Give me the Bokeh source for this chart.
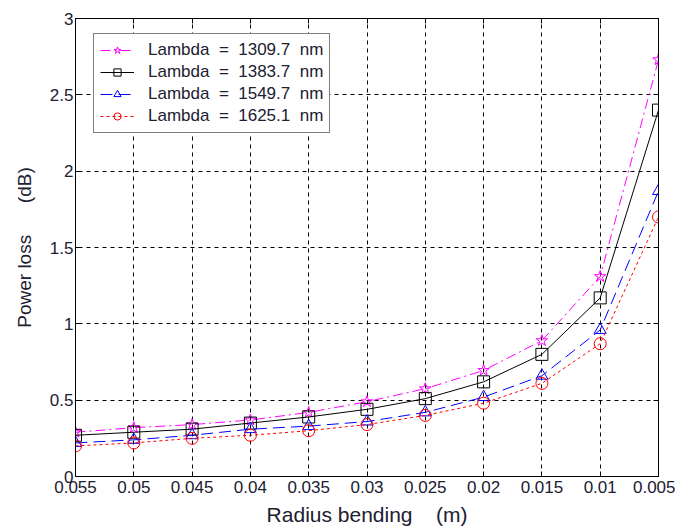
from bokeh.plotting import figure
from bokeh.models import Range1d, FixedTicker, LinearAxis, Legend, LegendItem
from bokeh.embed import file_html
from bokeh.resources import INLINE

radius = [0.055, 0.05, 0.045, 0.04, 0.035, 0.03, 0.025, 0.02, 0.015, 0.01, 0.005]
loss_1309 = [0.29, 0.32, 0.34, 0.37, 0.42, 0.49, 0.575, 0.695, 0.89, 1.31, 2.73]
loss_1383 = [0.27, 0.29, 0.31, 0.35, 0.39, 0.44, 0.51, 0.62, 0.80, 1.17, 2.40]
loss_1549 = [0.22, 0.24, 0.27, 0.31, 0.33, 0.36, 0.42, 0.52, 0.66, 0.96, 1.87]
loss_1625 = [0.20, 0.22, 0.25, 0.27, 0.30, 0.34, 0.40, 0.48, 0.61, 0.87, 1.70]
NB = "\u00a0"
labels = [f"Lambda{NB*2}={NB*2}1309.7{NB*2}nm", f"Lambda{NB*2}={NB*2}1383.7{NB*2}nm",
          f"Lambda{NB*2}={NB*2}1549.7{NB*2}nm", f"Lambda{NB*2}={NB*2}1625.1{NB*2}nm"]
x_ticks = [0.055, 0.05, 0.045, 0.04, 0.035, 0.03, 0.025, 0.02, 0.015, 0.01, 0.005]
x_tick_labels = ["0.055", "0.05", "0.045", "0.04", "0.035", "0.03", "0.025", "0.02", "0.015", "0.01", "0.005"]
y_ticks = [0, 0.5, 1, 1.5, 2, 2.5, 3]
y_tick_labels = ["0", "0.5", "1", "1.5", "2", "2.5", "3"]
x_title = f"Radius bending{NB*4}(m)"
y_title = f"Power loss{NB*6}(dB)"

FONT = "Liberation Sans"
TXT = "#202030"

p = figure(width=675, height=528, output_backend="svg", toolbar_location=None,
           x_range=Range1d(0.055, 0.005), y_range=Range1d(0, 3),
           min_border_left=75, min_border_right=17, min_border_top=18, min_border_bottom=51)
p.outline_line_color = "black"
p.outline_line_width = 1
p.background_fill_color = "white"
p.border_fill_color = "white"

for ax, ticks, labs in ((p.xaxis[0], x_ticks, x_tick_labels), (p.yaxis[0], y_ticks, y_tick_labels)):
    ax.ticker = FixedTicker(ticks=ticks)
    ax.major_label_overrides = {t: l for t, l in zip(ticks, labs)}
    ax.major_label_text_font = FONT
    ax.major_label_text_font_size = "17px"
    ax.major_label_text_color = TXT
    ax.major_tick_in = 5
    ax.major_tick_out = 0
    ax.minor_tick_line_color = None
    ax.axis_line_color = "black"
    ax.major_tick_line_color = "black"
    ax.axis_label_text_font = FONT
    ax.axis_label_text_font_style = "normal"
    ax.axis_label_text_color = TXT

p.xaxis[0].major_label_standoff = 4
p.yaxis[0].major_label_standoff = 2
p.xaxis[0].axis_label = x_title
p.yaxis[0].axis_label = y_title
p.xaxis[0].axis_label_text_font_size = "21px"
p.yaxis[0].axis_label_text_font_size = "19px"
p.xaxis[0].axis_label_standoff = 7
p.yaxis[0].axis_label_standoff = 12

for loc, ticks in (("right", y_ticks), ("above", x_ticks)):
    a = LinearAxis(ticker=FixedTicker(ticks=ticks),
                   major_label_overrides={t: "" for t in ticks},
                   major_tick_in=5, major_tick_out=0, minor_tick_line_color=None,
                   axis_line_color="black", major_tick_line_color="black")
    p.add_layout(a, loc)

p.xgrid.ticker = FixedTicker(ticks=x_ticks)
p.ygrid.ticker = FixedTicker(ticks=y_ticks)
p.grid.grid_line_color = "black"
p.grid.grid_line_dash = "4 4"
p.grid.grid_line_width = 1

series = [
    (loss_1309, "magenta", "10 4 2 4", "star"),
    (loss_1383, "black", "solid", "square"),
    (loss_1549, "blue", "12 6", "triangle"),
    (loss_1625, "red", "3 3", "circle"),
]
items = []
for (vals, col, dash, marker), lab in zip(series, labels):
    l = p.line(radius, vals, line_color=col, line_width=1, line_dash=dash)
    s = p.scatter(radius, vals, marker=marker, size=12, fill_color=None,
                  line_color=col, line_width=1)
    items.append(LegendItem(label=lab, renderers=[l, s]))

legend = Legend(items=items, location=(18, 343))
legend.label_text_font = FONT
legend.label_text_font_size = "17px"
legend.label_text_color = TXT
legend.border_line_color = "black"
legend.border_line_width = 1
legend.background_fill_alpha = 1
legend.glyph_width = 34
legend.glyph_height = 18
legend.label_height = 18
legend.spacing = 2
legend.padding = 6
legend.margin = 0
legend.label_standoff = 14
p.add_layout(legend, "center")

open("out.html", "w").write(file_html(p, INLINE))
